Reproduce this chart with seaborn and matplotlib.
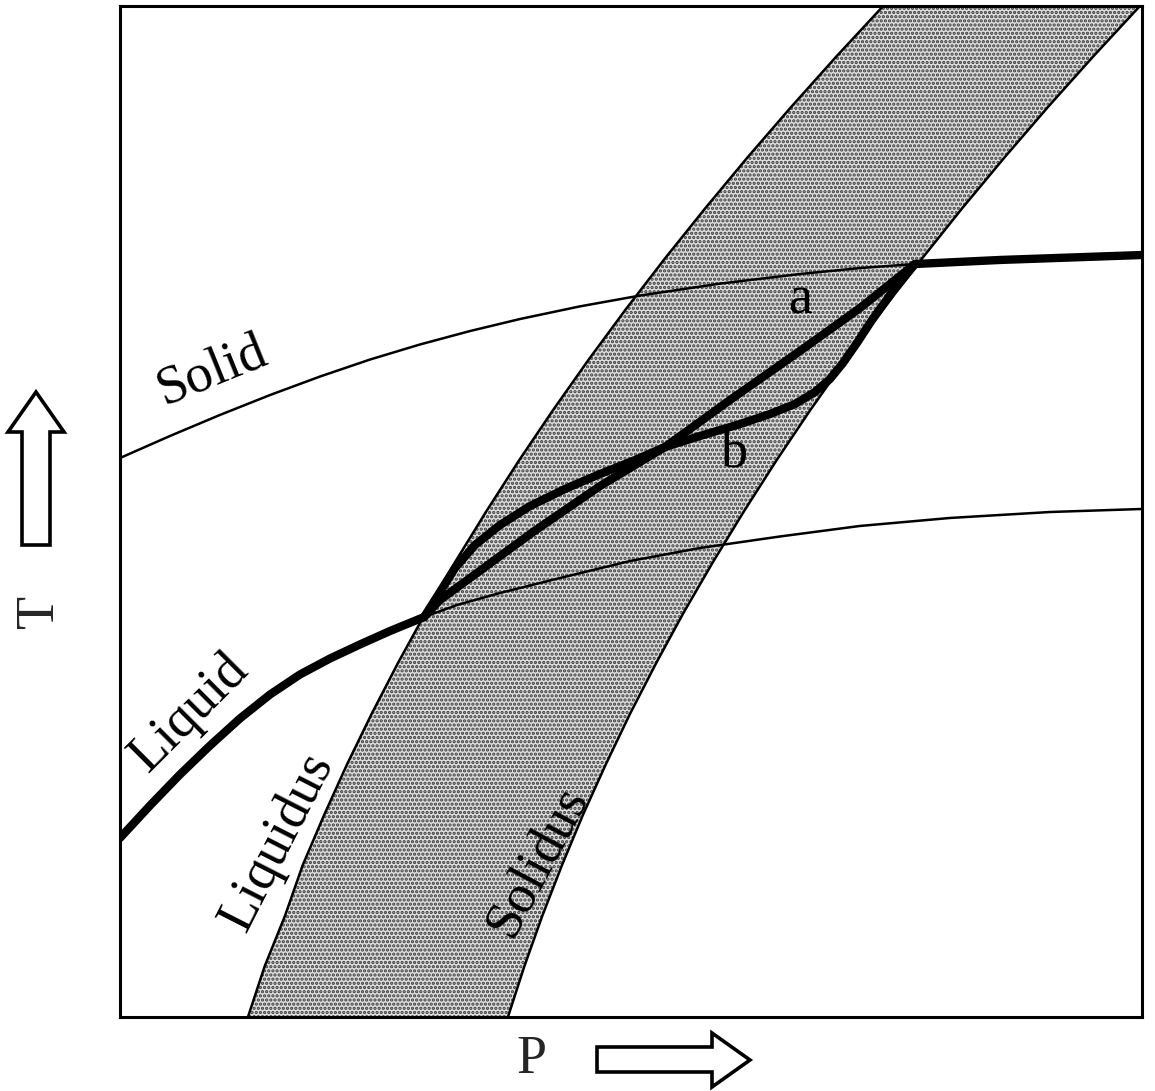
import matplotlib
matplotlib.use("Agg")
import matplotlib.pyplot as plt
import seaborn as sns
from matplotlib.patches import Polygon

# ---------------- data (P, T in arbitrary 0-100 units) ----------------
T_band = [0, 5, 10, 15, 20, 25, 30, 35, 40, 45, 50, 55, 60, 65, 70, 75, 80, 85, 90, 95, 100]
P_liquidus = [12.52, 14.15, 16.14, 17.87, 19.98, 22.22, 24.63, 27.19, 29.91, 32.79, 35.83,
              39.01, 42.35, 45.84, 49.49, 53.30, 57.27, 61.38, 65.66, 70.09, 74.68]
P_solidus = [37.96, 39.56, 41.32, 43.24, 45.30, 47.54, 49.91, 52.46, 55.15, 58.02, 61.04,
             64.20, 67.52, 71.01, 74.66, 78.46, 82.41, 86.53, 90.79, 95.22, 99.80]

# Solid adiabat (thin part, then thick continuation past the solidus)
P_solid_thin = [0.0, 4.89, 9.78, 14.68, 19.57, 24.46, 29.35, 34.25, 39.14, 45.01,
                50.88, 58.71, 66.54, 72.41, 77.79]
T_solid_thin = [55.29, 57.47, 59.55, 61.52, 63.35, 65.03, 66.52, 67.85, 69.04, 70.29,
                71.36, 72.54, 73.49, 74.08, 74.48]
P_solid_thick = [77.79, 86.11, 100.0]
T_solid_thick = [74.48, 74.88, 75.37]

# Liquid adiabat (thick) up to the liquidus
P_liquid = [0.0, 2.94, 5.87, 8.81, 11.74, 14.68, 17.61, 20.55, 23.48, 26.42, 29.75]
T_liquid = [17.71, 20.92, 23.99, 26.85, 29.53, 31.90, 33.88, 35.46, 36.85, 38.18, 39.56]

# Metastable liquid continuation (thin)
P_lower = [29.75, 32.97, 37.18, 43.05, 49.90, 56.75, 64.58, 72.41, 81.21, 91.00, 100.0]
T_lower = [39.56, 40.75, 41.94, 43.42, 45.10, 46.39, 47.53, 48.57, 49.36, 49.95, 50.25]

# Path a
P_a = [29.75, 31.31, 34.25, 40.41, 46.97, 53.33, 59.69, 66.54, 72.41, 77.79]
T_a = [39.56, 41.25, 43.42, 47.97, 52.52, 56.38, 61.03, 65.88, 70.13, 74.48]

# Path b
P_b = [29.75, 31.12, 32.78, 34.74, 37.18, 40.12, 43.54, 46.97, 50.39, 53.33, 56.75,
       60.67, 63.60, 66.05, 68.00, 69.47, 70.74, 72.11, 73.58, 75.64, 77.79]
T_b = [39.56, 41.74, 44.41, 46.69, 48.66, 50.54, 52.23, 53.71, 55.09, 56.38, 57.47,
       58.65, 59.64, 60.63, 61.82, 63.11, 64.69, 66.67, 68.94, 71.81, 74.48]

labels = ["Solid", "Liquid", "Liquidus", "Solidus", "a", "b"]
label_P = [9.0, 6.85, 15.46, 40.90, 66.54, 60.18]
label_T = [63.8, 30.07, 17.31, 15.33, 70.92, 55.69]
label_rot = [22, 45, 63, 62, 0, 0]

# ---------------- figure ----------------
sns.set_theme(style="white")
plt.rcParams["font.family"] = ["Liberation Serif", "DejaVu Serif"]
plt.rcParams["hatch.linewidth"] = 1.6

W, H = 1155, 1091
fig = plt.figure(figsize=(W / 100, H / 100), dpi=100)
ax = fig.add_axes([120 / W, 1 - 1017 / H, 1022 / W, 1011 / H])

# stippled melting band
ax.fill_betweenx(T_band, P_liquidus, P_solidus, facecolor="#dedede",
                 edgecolor="#3a3a3a", hatch="....", linewidth=0, zorder=1)

thin = 1.8
thick = 6.0
kw = dict(sort=False, estimator=None, color="black", ax=ax, legend=False)
sns.lineplot(x=P_liquidus, y=T_band, linewidth=thin, zorder=3, **kw)
sns.lineplot(x=P_solidus, y=T_band, linewidth=thin, zorder=3, **kw)
sns.lineplot(x=P_solid_thin, y=T_solid_thin, linewidth=thin, zorder=3, **kw)
sns.lineplot(x=P_lower, y=T_lower, linewidth=thin, zorder=3, **kw)
sns.lineplot(x=P_solid_thick, y=T_solid_thick, linewidth=thick, zorder=4, **kw)
sns.lineplot(x=P_liquid, y=T_liquid, linewidth=thick, zorder=4, **kw)
sns.lineplot(x=P_a, y=T_a, linewidth=thick, zorder=4, **kw)
sns.lineplot(x=P_b, y=T_b, linewidth=thick, zorder=4, **kw)
for ln in ax.lines:
    ln.set_solid_capstyle("round")
    ln.set_solid_joinstyle("round")

for txt, px, ty, rot in zip(labels, label_P, label_T, label_rot):
    ax.text(px, ty, txt, rotation=rot, rotation_mode="anchor", ha="center",
            va="center", fontsize=39, color="black", zorder=5)

ax.set_xlim(0, 100)
ax.set_ylim(0, 100)
ax.set_xticks([])
ax.set_yticks([])
ax.set_xlabel("")
ax.set_ylabel("")
for s in ax.spines.values():
    s.set_visible(True)
    s.set_color("black")
    s.set_linewidth(2.2)


def fpoly(pts):
    return Polygon([(x / W, 1 - y / H) for x, y in pts], closed=True,
                   transform=fig.transFigure, facecolor="white",
                   edgecolor="black", linewidth=2.6, joinstyle="miter")


# hollow block arrows next to the axis letters
fig.patches.append(fpoly([(22, 545), (22, 432), (8, 432), (36, 392), (64, 432),
                          (50, 432), (50, 545)]))
fig.patches.append(fpoly([(597, 1047), (712, 1047), (712, 1033), (750, 1060),
                          (712, 1087), (712, 1072), (597, 1072)]))

fig.text(40 / W, 1 - 611 / H, "T", rotation=90, ha="center", va="center", fontsize=39)
fig.text(531 / W, 1 - 1060 / H, "P", ha="center", va="center", fontsize=39)

fig.savefig("out.png", dpi=100, facecolor="white")
